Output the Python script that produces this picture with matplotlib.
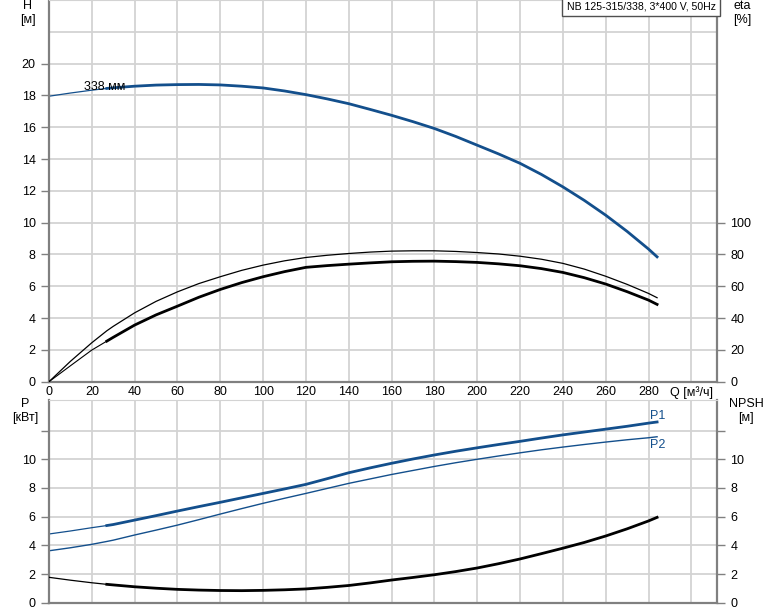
import matplotlib
matplotlib.use('Agg')
import matplotlib.pyplot as plt
import numpy as np

plt.rcParams['font.family'] = ['Liberation Sans', 'DejaVu Sans']
plt.rcParams['font.size'] = 9

# values
q = [0, 10, 20, 27, 30, 40, 50, 60, 70, 80, 90, 100, 110, 120, 130, 140, 150, 160,
     170, 180, 190, 200, 210, 220, 230, 240, 250, 260, 270, 280, 284]
head = [17.95, 18.15, 18.33, 18.44, 18.48, 18.58, 18.65, 18.68, 18.69, 18.66, 18.58,
        18.47, 18.28, 18.05, 17.78, 17.48, 17.12, 16.75, 16.35, 15.92, 15.42, 14.87,
        14.32, 13.73, 13.03, 12.25, 11.4, 10.47, 9.45, 8.34, 7.85]
eta_pump = [0, 12.8, 24.5, 32.0, 34.8, 43.3, 50.5, 56.5, 61.7, 66, 70, 73.3, 76, 78.1,
            79.5, 80.6, 81.5, 82.1, 82.3, 82.3, 81.9, 81.2, 80.3, 78.9, 77.0, 74.4,
            70.8, 66.3, 61.2, 55.5, 52.8]
eta_total = [0, 10, 19.9, 25.5, 27.9, 35.6, 42, 47.5, 53.1, 58, 62.3, 66, 69.2, 71.9,
             73, 73.9, 74.7, 75.4, 75.7, 75.8, 75.5, 75, 74.1, 72.9, 71.1, 68.7, 65.4,
             61.4, 56.6, 51.3, 48.6]
p1 = [4.79, 5.0, 5.23, 5.38, 5.45, 5.76, 6.07, 6.39, 6.7, 7.0, 7.31, 7.62, 7.93, 8.25,
      8.65, 9.06, 9.4, 9.72, 10.02, 10.3, 10.56, 10.8, 11.03, 11.25, 11.48, 11.7, 11.9,
      12.1, 12.3, 12.52, 12.6]
p2 = [3.62, 3.83, 4.07, 4.27, 4.36, 4.72, 5.06, 5.41, 5.79, 6.18, 6.56, 6.93, 7.28,
      7.62, 7.97, 8.32, 8.63, 8.94, 9.22, 9.5, 9.76, 10.0, 10.23, 10.45, 10.66, 10.85,
      11.03, 11.2, 11.36, 11.5, 11.57]
npsh = [1.77, 1.57, 1.39, 1.28, 1.24, 1.11, 1.01, 0.93, 0.88, 0.85, 0.84, 0.86, 0.9,
        0.96, 1.07, 1.2, 1.38, 1.58, 1.76, 1.95, 2.17, 2.42, 2.72, 3.05, 3.42, 3.8, 4.2,
        4.65, 5.15, 5.7, 5.95]

q_ticks = list(range(0, 301, 20))
q_labels = [str(v) for v in range(0, 281, 20)] + ['Q [м³/ч]']

BLUE = '#134f8c'
GRID = '#d3d3d3'
SPINE = '#808080'

q = np.array(q)
thin = q <= 27
thick = q >= 27

fig = plt.figure(figsize=(7.74, 6.11), dpi=100)
ax1 = fig.add_axes([0.0633, 0.3753, 0.8631, 0.6247])
ax2 = fig.add_axes([0.0633, 0.01358, 0.8631, 0.3317])


def style(ax):
    ax.set_xlim(0, 312)
    ax.set_xticks(q_ticks)
    ax.grid(True, which='both', color=GRID, lw=1.3)
    ax.set_axisbelow(True)
    for s in ['left', 'bottom', 'right']:
        ax.spines[s].set_color(SPINE)
        ax.spines[s].set_linewidth(1.6)
    ax.spines['top'].set_color(GRID)
    ax.tick_params(colors=SPINE, labelcolor='black', length=6, width=1)


style(ax1)
ax1.set_ylim(0, 24)
ax1.set_yticks(range(0, 21, 2))
ax1.set_yticks([22], minor=True)
ax1.tick_params(which='minor', length=0)
ax1.set_xticklabels(q_labels)
ax1.tick_params(axis='x', length=0, pad=3)

ax1.plot(q[thin], np.array(head)[thin], color=BLUE, lw=0.9)
ax1.plot(q[thick], np.array(head)[thick], color=BLUE, lw=2.0)
ax1.text(16.5, 18.55, '338 мм', fontsize=9, va='center', ha='left')

ax1e = ax1.twinx()
ax1e.set_ylim(0, 240)
ax1e.set_yticks(range(0, 101, 20))
for s in ax1e.spines.values():
    s.set_visible(False)
ax1e.tick_params(colors=SPINE, labelcolor='black', length=6, width=1)
ax1e.plot(q, eta_pump, color='black', lw=0.9)
ax1e.plot(q[thin], np.array(eta_total)[thin], color='black', lw=0.8)
ax1e.plot(q[thick], np.array(eta_total)[thick], color='black', lw=2.0)

ax1.text(0.998, 0.997, 'NB 125-315/338, 3*400 V, 50Hz', transform=ax1.transAxes,
         ha='right', va='top', fontsize=7.6,
         bbox=dict(facecolor='white', edgecolor='#505050', lw=1, pad=3.2))

style(ax2)
ax2.set_ylim(0, 14.13)
ax2.set_yticks(range(0, 13, 2))
ax2.set_yticklabels([str(v) for v in range(0, 11, 2)] + [''])
ax2.set_xticklabels([])
ax2.tick_params(axis='x', length=0)

ax2.plot(q[thin], np.array(p1)[thin], color=BLUE, lw=0.9)
ax2.plot(q[thick], np.array(p1)[thick], color=BLUE, lw=2.0)
ax2.plot(q, p2, color=BLUE, lw=1.0)
ax2.text(280.5, 13.0, 'P1', color=BLUE, fontsize=9, ha='left', va='center')
ax2.text(280.5, 11.0, 'P2', color=BLUE, fontsize=9, ha='left', va='center')

ax2n = ax2.twinx()
ax2n.set_ylim(0, 14.13)
ax2n.set_yticks(range(0, 13, 2))
ax2n.set_yticklabels([str(v) for v in range(0, 11, 2)] + [''])
for s in ax2n.spines.values():
    s.set_visible(False)
ax2n.tick_params(colors=SPINE, labelcolor='black', length=6, width=1)
ax2n.plot(q[thin], np.array(npsh)[thin], color='black', lw=0.9)
ax2n.plot(q[thick], np.array(npsh)[thick], color='black', lw=2.0)

# axis captions
fig.text(28 / 774, 1 - 13 / 611, 'H\n[м]', ha='center', va='center', fontsize=9, linespacing=1.15)
fig.text(742 / 774, 1 - 13 / 611, 'eta\n[%]', ha='center', va='center', fontsize=9, linespacing=1.15)
fig.text(25 / 774, 1 - 411 / 611, 'P\n[кВт]', ha='center', va='center', fontsize=9, linespacing=1.15)
fig.text(746 / 774, 1 - 411 / 611, 'NPSH\n[м]', ha='center', va='center', fontsize=9, linespacing=1.15)

fig.savefig('out.png', dpi=100)
